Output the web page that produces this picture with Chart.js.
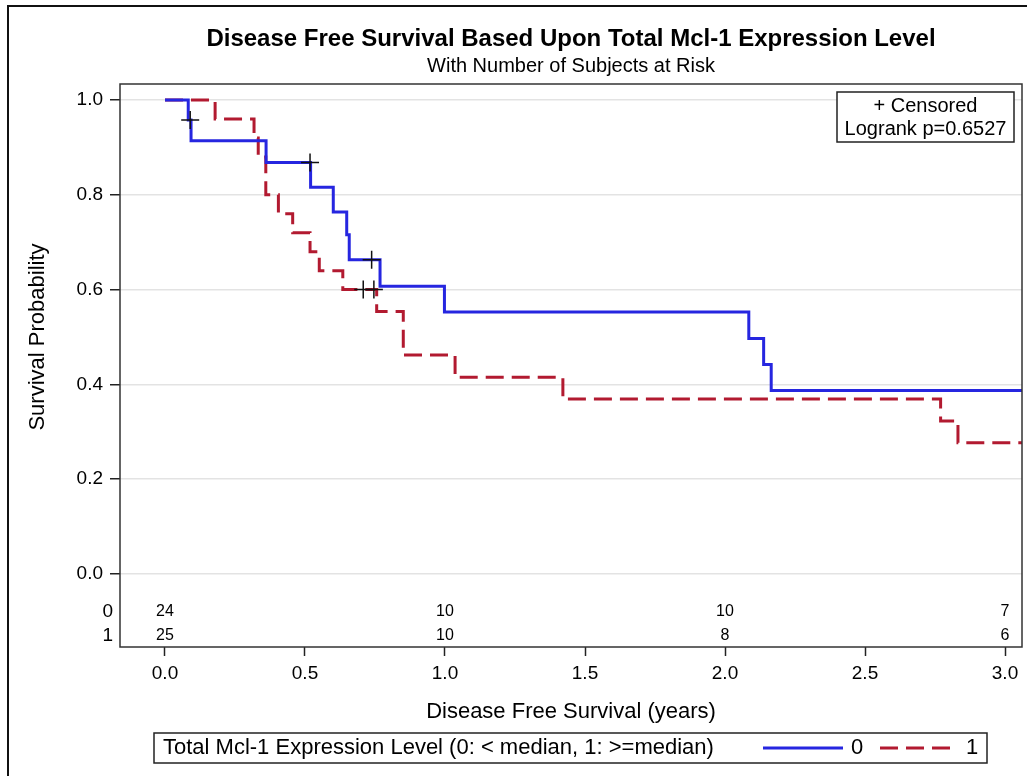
<!DOCTYPE html>
<html lang="en">

<head>
    <meta charset="UTF-8">
    <title>Disease Free Survival</title>
    <script src="https://cdn.jsdelivr.net/npm/chart.js"></script>
    <style>
        body { margin: 0; background: #fff; }
        #caixa { width: 1027px; height: 776px; }
    </style>
</head>

<body>
    <div id="caixa">
        <canvas id="kmChart" width="1027" height="776"></canvas>
    </div>
</body>
<script>

    // Kaplan-Meier steps (time in years, survival probability)
    const blueTimes = [0, 0.083, 0.093, 0.361, 0.520, 0.601, 0.649, 0.658, 0.768, 0.998, 2.085, 2.138, 2.165, 3.2];
    const blueSurv  = [1, 0.958, 0.914, 0.868, 0.816, 0.764, 0.716, 0.663, 0.607, 0.553, 0.497, 0.442, 0.387, 0.387];

    const redTimes = [0, 0.179, 0.318, 0.333, 0.360, 0.405, 0.456, 0.518, 0.551, 0.635, 0.756, 0.851, 1.036, 1.421, 2.770, 2.832, 3.2];
    const redSurv  = [1, 0.96, 0.92, 0.88, 0.80, 0.76, 0.72, 0.68, 0.64, 0.60, 0.554, 0.462, 0.415, 0.369, 0.323, 0.277, 0.277];

    const blueCensorTimes = [0.090, 0.518, 0.738];
    const blueCensorSurv  = [0.958, 0.868, 0.663];
    const redCensorTimes  = [0.708, 0.746];
    const redCensorSurv   = [0.60, 0.60];

    // numbers at risk
    const riskTimes  = [0, 1, 2, 3];
    const riskGroup0 = [24, 10, 10, 7];
    const riskGroup1 = [25, 10, 8, 6];

    const xTicks = [0, 0.5, 1, 1.5, 2, 2.5, 3];
    const yTicks = [0, 0.2, 0.4, 0.6, 0.8, 1.0];

    const FONTE = '"Liberation Sans", Arial, Helvetica, sans-serif';
    const AZUL = '#2626E0';
    const VERMELHO = '#B21A30';

    function pares(xs, ys) {
        return xs.map(function (x, i) { return { x: x, y: ys[i] } });
    }

    const enfeites = {
        id: 'enfeites',
        beforeDraw(chart) {
            const ctx = chart.ctx;
            ctx.save();
            ctx.fillStyle = '#fff';
            ctx.fillRect(0, 0, chart.width, chart.height);
            ctx.restore();
        },
        afterDraw(chart) {
            const ctx = chart.ctx;
            const a = chart.chartArea;
            const xs = chart.scales.x;
            const ys = chart.scales.y;
            const meioX = (a.left + a.right) / 2;
            ctx.save();

            // moldura externa
            ctx.strokeStyle = '#111';
            ctx.lineWidth = 2;
            ctx.strokeRect(8, 6, chart.width + 20, chart.height + 20);

            // moldura do grafico
            ctx.strokeStyle = '#333';
            ctx.lineWidth = 1.5;
            ctx.strokeRect(a.left, a.top, a.right - a.left, a.bottom - a.top);

            // titulos
            ctx.fillStyle = '#000';
            ctx.textAlign = 'center';
            ctx.textBaseline = 'middle';
            ctx.font = 'bold 24px ' + FONTE;
            ctx.fillText('Disease Free Survival Based Upon Total Mcl-1 Expression Level', meioX, 39);
            ctx.font = '20px ' + FONTE;
            ctx.fillText('With Number of Subjects at Risk', meioX, 66);

            // titulo do eixo y
            ctx.save();
            ctx.translate(38, (ys.getPixelForValue(0) + ys.getPixelForValue(1)) / 2);
            ctx.rotate(-Math.PI / 2);
            ctx.font = '22px ' + FONTE;
            ctx.fillText('Survival Probability', 0, 0);
            ctx.restore();

            // caixa censurado / logrank
            ctx.fillStyle = '#fff';
            ctx.fillRect(837, 92, 177, 50);
            ctx.strokeStyle = '#222';
            ctx.lineWidth = 1.5;
            ctx.strokeRect(837, 92, 177, 50);
            ctx.fillStyle = '#000';
            ctx.font = '20px ' + FONTE;
            ctx.fillText('+ Censored', 925.5, 106);
            ctx.fillText('Logrank p=0.6527', 925.5, 129);

            // tabela de sujeitos em risco
            const linhas = [riskGroup0, riskGroup1];
            const linhaY = [a.bottom - 35, a.bottom - 11];
            for (var l = 0; l < linhas.length; l++) {
                ctx.font = '19px ' + FONTE;
                ctx.textAlign = 'right';
                ctx.fillText(String(l), 113, linhaY[l]);
                ctx.font = '16px ' + FONTE;
                ctx.textAlign = 'center';
                for (var i = 0; i < riskTimes.length; i++) {
                    var px = xs.getPixelForValue(riskTimes[i]);
                    var texto = String(linhas[l][i]);
                    if (px + ctx.measureText(texto).width / 2 > a.right - 3) {
                        ctx.textAlign = 'right';
                        ctx.fillText(texto, a.right - 3, linhaY[l]);
                        ctx.textAlign = 'center';
                    } else {
                        ctx.fillText(texto, px, linhaY[l]);
                    }
                }
            }

            // legenda
            ctx.fillStyle = '#fff';
            ctx.fillRect(154, 733, 833, 30);
            ctx.strokeStyle = '#222';
            ctx.lineWidth = 1.5;
            ctx.strokeRect(154, 733, 833, 30);
            ctx.fillStyle = '#000';
            ctx.font = '22px ' + FONTE;
            ctx.textAlign = 'left';
            ctx.fillText('Total Mcl-1 Expression Level (0: < median, 1: >=median)', 163, 748);
            ctx.lineWidth = 3;
            ctx.strokeStyle = AZUL;
            ctx.beginPath();
            ctx.moveTo(763, 748);
            ctx.lineTo(843, 748);
            ctx.stroke();
            ctx.fillText('0', 851, 748);
            ctx.strokeStyle = VERMELHO;
            ctx.setLineDash([18, 8]);
            ctx.beginPath();
            ctx.moveTo(880, 748);
            ctx.lineTo(950, 748);
            ctx.stroke();
            ctx.setLineDash([]);
            ctx.fillText('1', 966, 748);

            ctx.restore();
        }
    };

    const data = {
        datasets: [{
            label: 'censored 0',
            type: 'scatter',
            data: pares(blueCensorTimes, blueCensorSurv),
            pointStyle: 'cross',
            pointRadius: 9,
            pointBorderWidth: 1.5,
            borderColor: '#111',
            backgroundColor: '#111',
        }, {
            label: 'censored 1',
            type: 'scatter',
            data: pares(redCensorTimes, redCensorSurv),
            pointStyle: 'cross',
            pointRadius: 9,
            pointBorderWidth: 1.5,
            borderColor: '#111',
            backgroundColor: '#111',
        }, {
            label: '0',
            data: pares(blueTimes, blueSurv),
            stepped: 'before',
            borderColor: AZUL,
            borderWidth: 3,
            pointRadius: 0,
            fill: false,
        }, {
            label: '1',
            data: pares(redTimes, redSurv),
            stepped: 'before',
            borderColor: VERMELHO,
            borderWidth: 3,
            borderDash: [18, 8],
            pointRadius: 0,
            fill: false,
        }]
    };

    const config = {
        type: 'line',
        data: data,
        options: {
            responsive: false,
            animation: false,
            events: [],
            layout: { autoPadding: false, padding: { top: 84, right: 5, left: 0, bottom: 0 } },
            plugins: {
                legend: { display: false },
                tooltip: { enabled: false },
            },
            scales: {
                x: {
                    type: 'linear',
                    min: -0.1607,
                    max: 3.0607,
                    afterFit: function (scale) {
                        scale.height = 129;
                        scale.paddingLeft = 0;
                        scale.paddingRight = 0;
                    },
                    afterBuildTicks: function (scale) {
                        scale.ticks = xTicks.map(function (v) { return { value: v } });
                    },
                    ticks: {
                        color: '#000',
                        padding: 6,
                        font: { family: FONTE, size: 19 },
                        callback: function (v) { return Number(v).toFixed(1) },
                    },
                    grid: {
                        drawOnChartArea: false,
                        tickColor: '#222',
                        tickLength: 9,
                        tickWidth: 1.5,
                    },
                    border: { display: false },
                    title: {
                        display: true,
                        text: 'Disease Free Survival (years)',
                        color: '#000',
                        font: { family: FONTE, size: 22 },
                        padding: { top: 4, bottom: 51 },
                    },
                },
                y: {
                    type: 'linear',
                    min: -0.154,
                    max: 1.0338,
                    afterFit: function (scale) {
                        scale.width = 120;
                        scale.paddingTop = 0;
                        scale.paddingBottom = 0;
                    },
                    afterBuildTicks: function (scale) {
                        scale.ticks = yTicks.map(function (v) { return { value: v } });
                    },
                    ticks: {
                        color: '#000',
                        padding: 7,
                        font: { family: FONTE, size: 19 },
                        callback: function (v) { return Number(v).toFixed(1) },
                    },
                    grid: {
                        color: '#e3e3e3',
                        lineWidth: 1.5,
                        tickColor: '#222',
                        tickLength: 10,
                        tickWidth: 1.5,
                    },
                    border: { display: false },
                },
            },
        },
        plugins: [enfeites],
    };

    var kmChart = new Chart('kmChart', config);

</script>
</html>
